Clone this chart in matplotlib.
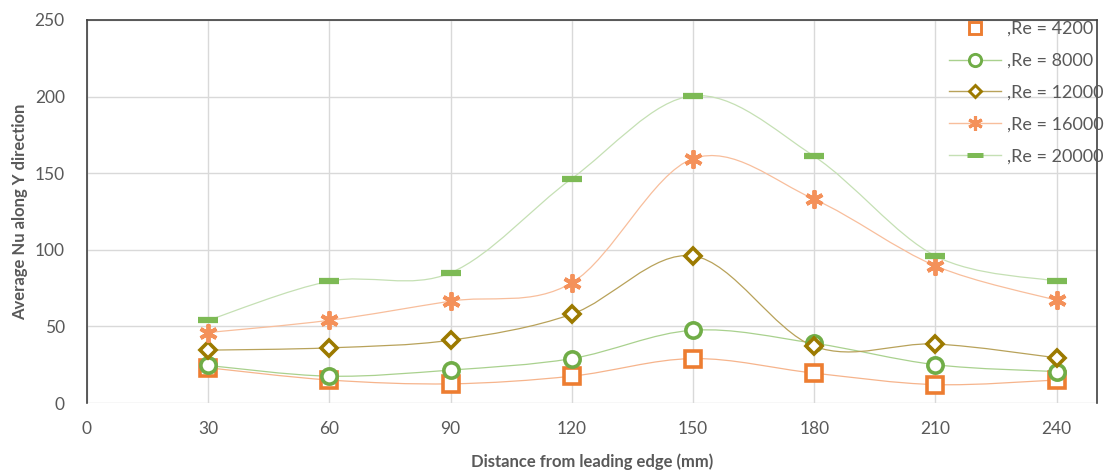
import numpy as np
import matplotlib.pyplot as plt
from matplotlib.path import Path
from matplotlib.patches import PathPatch
from matplotlib.lines import Line2D

plt.rcParams['font.family'] = ['Lato', 'DejaVu Sans']

# distance from leading edge (mm)
x_mm = [30, 60, 90, 120, 150, 180, 210, 240]

# average Nu along Y direction
nu_4200 = [23, 15, 12.5, 17.5, 29, 19.5, 12, 15]
nu_8000 = [24.5, 17.5, 21.5, 29, 47.5, 39, 25, 20.5]
nu_12000 = [34.5, 36, 41, 58, 96, 37, 38.5, 29.5]
nu_16000 = [46, 54, 66.5, 78.5, 159.5, 133, 89.5, 67]
nu_20000 = [54, 79.5, 85, 146.5, 200.5, 161, 96, 79.5]

labels = [",Re = 4200", ",Re = 8000", ",Re = 12000", ",Re = 16000", ",Re = 20000"]
series = [nu_4200, nu_8000, nu_12000, nu_16000, nu_20000]
marker_colors = ["#ED7D31", "#70AD47", "#9C7A00", "#F4915A", "#7DBA55"]
line_colors = ["#F6B48C", "#A9D18E", "#B8A25A", "#F8BE9C", "#C5E0B4"]
markers = ["s", "o", "D", (6, 2, 0), "_"]
msizes = [11, 11, 8, 13, 15]
mews = [2.6, 2.6, 2.6, 2.8, 4.5]


def smooth_path(xs, ys):
    # Excel-like smoothed line: cubic bezier through the points
    p = np.column_stack([xs, ys]).astype(float)
    ext = np.vstack([p[0], p, p[-1]])
    verts = [p[0]]
    codes = [Path.MOVETO]
    for i in range(len(p) - 1):
        c1 = ext[i + 1] + (ext[i + 2] - ext[i]) / 6.0
        c2 = ext[i + 2] - (ext[i + 3] - ext[i + 1]) / 6.0
        verts += [c1, c2, ext[i + 2]]
        codes += [Path.CURVE4] * 3
    return Path(verts, codes)


fig = plt.figure(figsize=(11.09, 4.70), dpi=100)
ax = fig.add_axes([87 / 1109, 67 / 470, 1010 / 1109, 383 / 470])

handles = []
for i, ys in enumerate(series):
    ax.add_patch(PathPatch(smooth_path(x_mm, ys), facecolor="none",
                           edgecolor=line_colors[i], lw=0.9, zorder=2 + i))
    ax.plot(x_mm, ys, linestyle="none", marker=markers[i], ms=msizes[i],
            mec=marker_colors[i], mfc="white" if i < 3 else marker_colors[i],
            mew=mews[i], zorder=10 + i)
    handles.append(Line2D([], [], color=line_colors[i], lw=1.0,
                          linestyle="none" if i == 0 else "-",
                          marker=markers[i], ms=msizes[i] * 0.8,
                          mec=marker_colors[i],
                          mfc="white" if i < 3 else marker_colors[i],
                          mew=mews[i] * 0.8))

ax.set_xlim(0, 250)
ax.set_ylim(0, 250)
ax.set_xticks(range(0, 250, 30))
ax.set_yticks(range(0, 251, 50))
ax.grid(True, color="#D9D9D9", lw=1.0)
ax.set_axisbelow(True)
ax.tick_params(length=0, labelsize=12.5, labelcolor="#595959")
ax.tick_params(axis="x", pad=13)
ax.tick_params(axis="y", pad=16)
for s in ["left", "top", "right"]:
    ax.spines[s].set_color("#404040")
    ax.spines[s].set_linewidth(1.2)
ax.spines["bottom"].set_visible(False)

ax.set_xlabel("Distance from leading edge (mm)", fontsize=12, fontweight="bold",
              color="#595959", labelpad=12)
ax.set_ylabel("Average Nu along Y direction", fontsize=12, fontweight="bold",
              color="#595959", labelpad=5)

fig.legend(handles, labels, loc="upper left",
           bbox_to_anchor=(940 / 1109, 1 - 12 / 470), frameon=False,
           fontsize=13, labelcolor="#595959", handlelength=2.9,
           handletextpad=0.3, labelspacing=0.88, borderpad=0)

fig.savefig("out.png", dpi=100)
